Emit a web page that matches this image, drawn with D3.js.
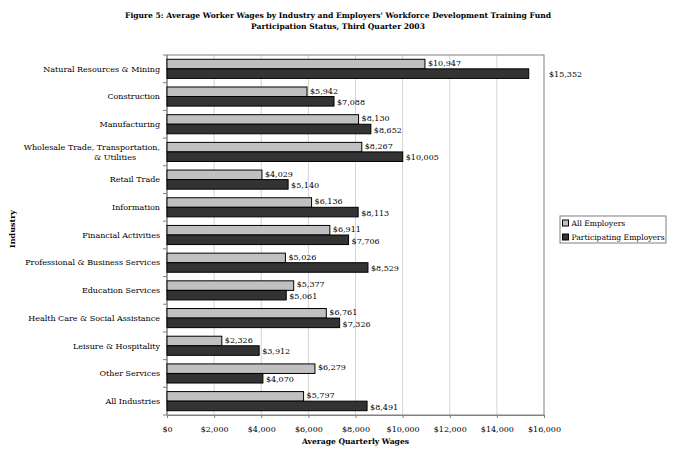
<!DOCTYPE html>
<html><head><meta charset="utf-8">
<script src="https://cdn.jsdelivr.net/npm/d3@7"></script>
<style>body{margin:0;background:#fff}svg{display:block}text{font-family:"DejaVu Serif",serif;fill:#000}</style>
</head><body><svg id="c" width="677" height="461"></svg>
<script>
const categories = ["Natural Resources & Mining","Construction","Manufacturing","Wholesale Trade, Transportation,|& Utilities","Retail Trade","Information","Financial Activities","Professional & Business Services","Education Services","Health Care & Social Assistance","Leisure & Hospitality","Other Services","All Industries"];
const allEmployers = [10947,5942,8130,8267,4029,6136,6911,5026,5377,6761,2326,6279,5797];
const participating = [15352,7088,8652,10005,5140,8113,7706,8529,5061,7326,3912,4070,8491];
const seriesNames = ["All Employers","Participating Employers"];
const xTicks = [0,2000,4000,6000,8000,10000,12000,14000,16000];
const titleLines = ["Figure 5: Average Worker Wages by Industry and Employers' Workforce Development Training Fund","Participation Status, Third Quarter 2003"];

const svg = d3.select("#c");
const L=167, R=544, T=55, B=415;
const colors = ["#c0c0c0","#333333"];
const x = d3.scaleLinear().domain([0,16000]).range([L,R]);
const y = d3.scaleBand().domain(categories).range([T,B]).paddingInner(0.31).paddingOuter(0.155);
const fmt = d => "$" + d3.format(",")(d);

// title
svg.append("g").selectAll("text").data(titleLines).join("text")
  .attr("x",338).attr("y",(d,i)=>18+i*11).attr("text-anchor","middle")
  .attr("font-size",7.6).attr("font-weight","bold").text(d=>d);

// gridlines
svg.append("g").selectAll("line").data(xTicks.slice(1,-1)).join("line")
  .attr("x1",d=>x(d)).attr("x2",d=>x(d)).attr("y1",T).attr("y2",B)
  .attr("stroke","#d4d4d4").attr("stroke-width",1);
// plot border
svg.append("rect").attr("x",L).attr("y",T).attr("width",R-L).attr("height",B-T)
  .attr("fill","none").attr("stroke","#808080");

// x axis
const xa = svg.append("g").attr("transform",`translate(0,${B})`)
  .call(d3.axisBottom(x).tickValues(xTicks).tickFormat(fmt).tickSize(3).tickPadding(8));
xa.select(".domain").attr("stroke","#808080");
xa.selectAll(".tick line").attr("stroke","#808080");
xa.selectAll("text").attr("font-size",8).attr("font-family","DejaVu Serif");

// y axis
const ya = svg.append("g").attr("transform",`translate(${L},0)`);
ya.append("line").attr("x1",0).attr("x2",0).attr("y1",T).attr("y2",B).attr("stroke","#808080");
ya.selectAll(".tk").data(d3.range(categories.length+1)).join("line")
  .attr("x1",-4).attr("x2",0)
  .attr("y1",i=>T+i*(B-T)/categories.length).attr("y2",i=>T+i*(B-T)/categories.length)
  .attr("stroke","#808080");
const labs = ya.selectAll(".lab").data(categories).join("text")
  .attr("text-anchor","end").attr("font-size",8)
  .attr("y",d=>y(d)+y.bandwidth()/2);
labs.each(function(d){
  const parts = d.split("|");
  const t = d3.select(this);
  parts.forEach((p,i)=>{
    t.append("tspan").attr("x", parts.length>1 && i>0 ? -31 : -7)
     .attr("dy", i===0 ? (parts.length>1 ? "-0.3em" : "0.35em") : "1.3em").text(p);
  });
});

// bars
const data = categories.map((c,i)=>({c, v:[allEmployers[i],participating[i]]}));
const sub = d3.scaleBand().domain([0,1]).range([0,y.bandwidth()]);
const g = svg.append("g").selectAll("g").data(data).join("g").attr("transform",d=>`translate(0,${y(d.c)})`);
g.selectAll("rect").data(d=>d.v).join("rect")
  .attr("x",x(0)).attr("y",(d,i)=>sub(i)).attr("width",d=>x(d)-x(0)).attr("height",sub.bandwidth())
  .attr("fill",(d,i)=>colors[i]).attr("stroke","#000").attr("stroke-width",1);
g.selectAll("text").data(d=>d.v).join("text")
  .attr("x",d=>{const e=x(d)+3; return e+30>R ? R+5 : e;})
  .attr("y",(d,i)=>sub(i)+sub.bandwidth()/2 + (i===0?-1:1))
  .attr("dy","0.35em").attr("font-size",8).text(fmt);

// axis titles
svg.append("text").attr("x",(L+R)/2).attr("y",444).attr("text-anchor","middle")
  .attr("font-size",7.6).attr("font-weight","bold").text("Average Quarterly Wages");
svg.append("text").attr("transform",`translate(15,229) rotate(-90)`).attr("text-anchor","middle")
  .attr("font-size",8).attr("font-weight","bold").attr("font-family","Liberation Serif").text("Industry");

// legend
const lg = svg.append("g").attr("transform","translate(560,216)");
lg.append("rect").attr("width",106).attr("height",27).attr("fill","#fff").attr("stroke","#808080");
const li = lg.selectAll("g").data(seriesNames).join("g").attr("transform",(d,i)=>`translate(2.5,${7+i*14})`);
li.append("rect").attr("x",0).attr("y",-3).attr("width",6).attr("height",6)
  .attr("fill",(d,i)=>colors[i]).attr("stroke","#000");
li.append("text").attr("x",9).attr("dy","0.35em").attr("font-size",7.6).text(d=>d);
</script></body></html>
